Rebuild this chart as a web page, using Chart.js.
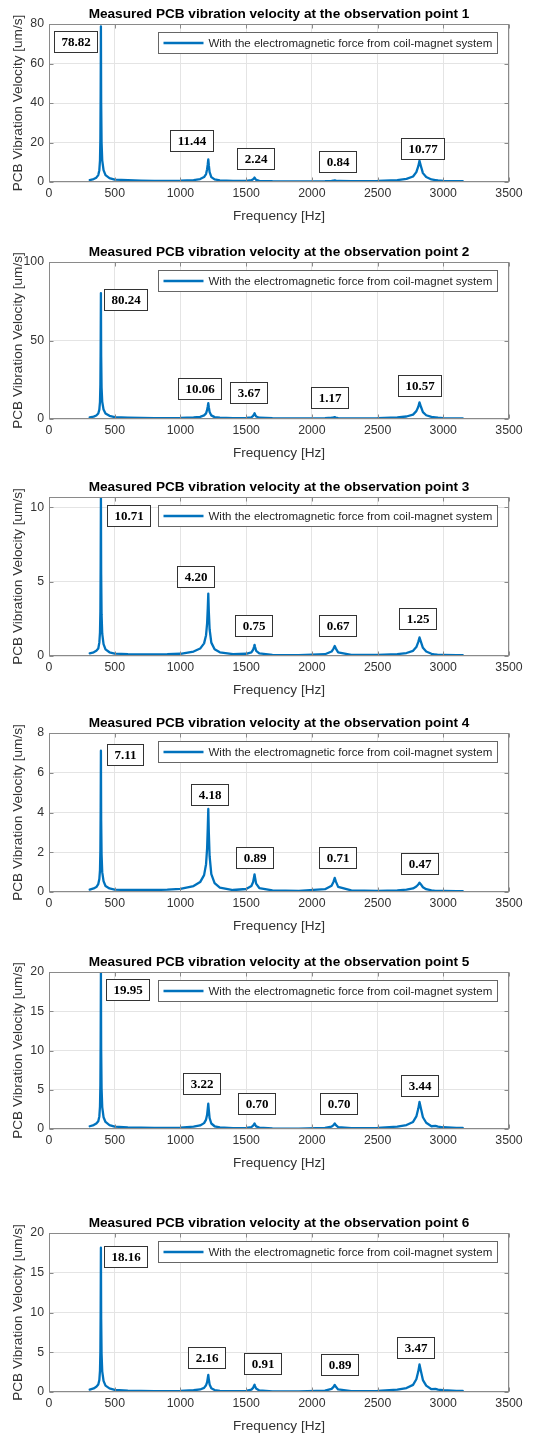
<!DOCTYPE html>
<html><head><meta charset="utf-8">
<script src="https://cdn.jsdelivr.net/npm/chart.js@4/dist/chart.umd.min.js"></script>
<style>
html,body{margin:0;padding:0;background:#fff;width:551px;height:1435px;overflow:hidden;position:relative}
canvas{position:absolute;left:0}
</style></head><body>
<script>
// ---------- DATA ----------
const freq = [310,340,360,375,383,388,391,393,395,397, 400,405,415,430,460,500,600,700,800,900,
  1000,1100,1150,1180,1195,1203,1208,1212,1216,1222, 1235,1260,1300,1400,1500,1540,1553,1560,1564,1568,
  1576,1600,1700,1900,2100,2150,2165,2174,2183,2200, 2300,2500,2650,2720,2770,2795,2810,2819,2830,2845,
  2870,2910,2940,2960,3000,3100,3148];

const vel1 = [1.0,1.5,2.2,3.5,6,11,22,45,78.82,40, 20,11,6,3.5,2.0,1.2,0.9,0.7,0.6,0.6,
  0.7,1.0,1.5,2.5,4,6.5,9,11.44,8.5,5, 2.5,1.3,0.8,0.5,0.6,0.9,1.4,1.9,2.24,1.8,
  1.1,0.6,0.4,0.3,0.4,0.6,0.75,0.84,0.7,0.5, 0.4,0.6,1.0,1.6,2.8,5,8,10.77,8,4.5,
  2.5,1.3,1.0,0.8,0.6,0.4,0.4];
const vel2 = [1.0,1.5,2.2,3.5,6,11,22,45,80.24,40, 20,11,6,3.5,2.0,1.2,0.9,0.7,0.6,0.6,
  0.7,1.0,1.4,2.3,3.6,5.8,8,10.06,7.5,4.5, 2.3,1.2,0.8,0.6,0.7,1.1,2.0,3.0,3.67,2.9,
  1.6,0.8,0.5,0.4,0.5,0.8,1.0,1.17,0.95,0.6, 0.45,0.6,1.0,1.6,2.8,5,7.8,10.57,7.8,4.4,
  2.4,1.3,1.0,0.8,0.6,0.4,0.4];
const vel3 = [0.18,0.25,0.35,0.5,0.9,1.6,3.0,6.0,10.71,5.5, 2.8,1.5,0.8,0.45,0.25,0.16,0.12,0.11,0.11,0.12,
  0.15,0.3,0.5,0.85,1.4,2.2,3.2,4.20,3.0,1.8, 0.9,0.45,0.25,0.13,0.15,0.25,0.42,0.62,0.75,0.6,
  0.35,0.18,0.08,0.06,0.12,0.3,0.5,0.67,0.5,0.25, 0.08,0.08,0.12,0.2,0.35,0.6,0.95,1.25,0.95,0.55,
  0.3,0.15,0.1,0.08,0.07,0.05,0.05];
const vel4 = [0.12,0.18,0.25,0.4,0.65,1.1,2.1,4.0,7.11,3.6, 1.9,1.0,0.55,0.3,0.18,0.12,0.1,0.1,0.1,0.12,
  0.16,0.3,0.5,0.85,1.4,2.2,3.2,4.18,3.0,1.8, 0.9,0.45,0.22,0.1,0.15,0.3,0.5,0.75,0.89,0.72,
  0.42,0.2,0.08,0.06,0.14,0.32,0.52,0.71,0.52,0.26, 0.08,0.06,0.08,0.12,0.18,0.28,0.38,0.47,0.38,0.24,
  0.14,0.08,0.06,0.05,0.05,0.04,0.04];
const vel5 = [0.35,0.5,0.7,1.0,1.6,2.9,5.6,11,19.95,10, 5.2,2.8,1.5,0.9,0.5,0.3,0.2,0.16,0.14,0.14,
  0.17,0.3,0.45,0.75,1.2,1.8,2.6,3.22,2.4,1.4, 0.7,0.35,0.2,0.12,0.14,0.25,0.42,0.6,0.70,0.57,
  0.33,0.17,0.08,0.06,0.13,0.3,0.5,0.70,0.5,0.25, 0.1,0.15,0.3,0.5,0.9,1.6,2.6,3.44,2.6,1.5,
  0.8,0.35,0.4,0.3,0.22,0.15,0.15];
const vel6 = [0.3,0.45,0.65,0.95,1.5,2.7,5.1,10,18.16,9.2, 4.8,2.6,1.4,0.8,0.45,0.28,0.18,0.14,0.12,0.12,
  0.14,0.22,0.32,0.52,0.85,1.25,1.75,2.16,1.6,0.95, 0.48,0.25,0.15,0.1,0.15,0.3,0.52,0.78,0.91,0.74,
  0.43,0.2,0.09,0.07,0.16,0.4,0.65,0.89,0.65,0.32, 0.12,0.15,0.3,0.5,0.9,1.6,2.6,3.47,2.6,1.5,
  0.8,0.35,0.4,0.3,0.22,0.15,0.15];

// peak value labels
const peaks1 = ['78.82','11.44','2.24','0.84','10.77'];
const peaks2 = ['80.24','10.06','3.67','1.17','10.57'];
const peaks3 = ['10.71','4.20','0.75','0.67','1.25'];
const peaks4 = ['7.11','4.18','0.89','0.71','0.47'];
const peaks5 = ['19.95','3.22','0.70','0.70','3.44'];
const peaks6 = ['18.16','2.16','0.91','0.89','3.47'];

// axis ranges / ticks
const yMax  = [80, 100, 10.7, 8, 20, 20];
const yStep = [20, 50, 5, 2, 5, 5];
const xMin = 0, xMax = 3500, xStep = 500;

const titleBase = 'Measured PCB vibration velocity at the observation point ';
const legendText = 'With the electromagnetic force from coil-magnet system';
const xTitle = 'Frequency [Hz]';
const yTitle = 'PCB Vibration Velocity [um/s]';

// ---------- LAYOUT (label anchors in data units, panel placement) ----------
const anchorF = [
  [205,1087,1569,2193,2839],
  [585,1142,1520,2132,2817],
  [603,1112,1554,2194,2805],
  [578,1218,1562,2193,2818],
  [598,1158,1582,2206,2821],
  [585,1197,1623,2213,2788]];
const anchorV = [
  [71.0,21.2,11.8,10.5,16.9],
  [75.9,19.7,16.6,13.9,21.3],
  [9.44,5.37,2.05,2.03,2.5],
  [6.91,4.93,1.73,1.74,1.42],
  [17.77,5.84,3.21,3.21,5.53],
  [17.06,4.28,3.6,3.43,5.57]];
const plotTop = [24, 262, 497, 733, 972, 1233];
const plotH   = [158, 157, 159, 159, 157, 159];

const series = [vel1, vel2, vel3, vel4, vel5, vel6];
const peakTexts = [peaks1, peaks2, peaks3, peaks4, peaks5, peaks6];

const FONT = '"Liberation Sans", Arial, Helvetica, sans-serif';
const SERIF = '"Liberation Serif", "Times New Roman", serif';
const BLUE = '#0072BD';
const FRAME = '#8a8a8a';

const decorPlugin = {
  id: 'decor',
  afterDatasetsDraw(chart) {
    const {ctx, chartArea: a, scales: {x, y}} = chart;
    const i = chart.options.plugins.decor.idx;
    ctx.save();
    // frame
    const L = Math.round(a.left) + 0.5, R = Math.round(a.right) - 0.5;
    const T = Math.round(a.top) + 0.5, B = Math.round(a.bottom) - 0.5;
    ctx.strokeStyle = FRAME; ctx.lineWidth = 1;
    ctx.strokeRect(L, T, R - L, B - T);
    // inner ticks
    ctx.beginPath();
    x.ticks.forEach(t => {
      const px = Math.round(x.getPixelForValue(t.value)) + 0.5;
      ctx.moveTo(px, B); ctx.lineTo(px, B - 4);
      ctx.moveTo(px, T); ctx.lineTo(px, T + 4);
    });
    y.ticks.forEach(t => {
      const py = Math.round(y.getPixelForValue(t.value)) + 0.5;
      ctx.moveTo(L, py); ctx.lineTo(L + 4, py);
      ctx.moveTo(R, py); ctx.lineTo(R - 4, py);
    });
    ctx.stroke();

    // legend box
    ctx.font = '11.5px ' + FONT;
    const tw = ctx.measureText(legendText).width;
    const bw = Math.round(50 + tw + 5), bh = 21;
    const bx = Math.round(a.right) - 12 - bw + 0.5, by = Math.round(a.top) + 8 + 0.5;
    ctx.fillStyle = '#fff'; ctx.fillRect(bx, by, bw, bh);
    ctx.strokeStyle = '#666'; ctx.strokeRect(bx, by, bw, bh);
    ctx.strokeStyle = BLUE; ctx.lineWidth = 2.3;
    ctx.beginPath(); ctx.moveTo(bx + 5, by + bh / 2); ctx.lineTo(bx + 45, by + bh / 2); ctx.stroke();
    ctx.fillStyle = '#262626'; ctx.textBaseline = 'middle'; ctx.textAlign = 'left';
    ctx.fillText(legendText, bx + 50, by + bh / 2 + 0.5);

    // peak value boxes
    ctx.font = 'bold 13px ' + SERIF;
    ctx.lineWidth = 1;
    peakTexts[i].forEach((txt, k) => {
      const cx = x.getPixelForValue(anchorF[i][k]);
      const cy = y.getPixelForValue(anchorV[i][k]);
      const w = Math.round(ctx.measureText(txt).width + 14), h = 21;
      const rx = Math.round(cx - w / 2) + 0.5, ry = Math.round(cy - h / 2) + 0.5;
      ctx.fillStyle = '#fff'; ctx.fillRect(rx, ry, w, h);
      ctx.strokeStyle = '#333'; ctx.strokeRect(rx, ry, w, h);
      ctx.fillStyle = '#000'; ctx.textAlign = 'center'; ctx.textBaseline = 'middle';
      ctx.fillText(txt, rx + w / 2, ry + h / 2 + 0.5);
    });
    ctx.restore();
  }
};

function makePanel(i) {
  const c = document.createElement('canvas');
  const h = plotH[i] + 30 + 42;
  c.width = 551; c.height = h;
  c.style.width = '551px'; c.style.height = h + 'px';
  c.style.top = (plotTop[i] - 30) + 'px';
  document.body.appendChild(c);
  new Chart(c, {
    type: 'line',
    data: {
      datasets: [{
        label: legendText,
        data: freq.map((f, k) => ({x: f, y: series[i][k]})),
        borderColor: BLUE, borderWidth: 2.3, pointRadius: 0, tension: 0, fill: false,
        borderJoinStyle: 'round', borderCapStyle: 'round', borderDash: [5000, 0]
      }]
    },
    options: {
      responsive: false, animation: false, devicePixelRatio: 1,
      layout: {padding: {left: 0, right: 42, top: 0, bottom: 0}},
      plugins: {
        legend: {display: false}, tooltip: {enabled: false},
        title: {display: true, text: titleBase + (i + 1), fullSize: false,
          font: {family: FONT, size: 13.6, weight: 'bold'}, color: '#000',
          padding: {top: 11.6, bottom: 2.1}},
        decor: {idx: i}
      },
      scales: {
        x: {type: 'linear', min: xMin, max: xMax,
          ticks: {stepSize: xStep, font: {family: FONT, size: 12.3}, color: '#333', padding: 4, maxRotation: 0, autoSkip: false,
            callback: v => String(v)},
          grid: {color: '#e4e4e4', drawTicks: false}, border: {display: false},
          title: {display: true, text: xTitle, font: {family: FONT, size: 13.6}, color: '#333', padding: 0},
          afterFit(s) { s.height = 42; }},
        y: {type: 'linear', min: 0, max: yMax[i],
          ticks: {stepSize: yStep[i], includeBounds: false, font: {family: FONT, size: 12.3}, color: '#333', padding: 5,
            callback: v => String(v)},
          grid: {color: '#e4e4e4', drawTicks: false}, border: {display: false},
          title: {display: true, text: yTitle, font: {family: FONT, size: 13.6}, color: '#333', padding: {top: 10, bottom: 0}},
          afterFit(s) { s.width = 49; }}
      }
    },
    plugins: [decorPlugin]
  });
}
for (let i = 0; i < 6; i++) makePanel(i);
</script>
</body></html>
